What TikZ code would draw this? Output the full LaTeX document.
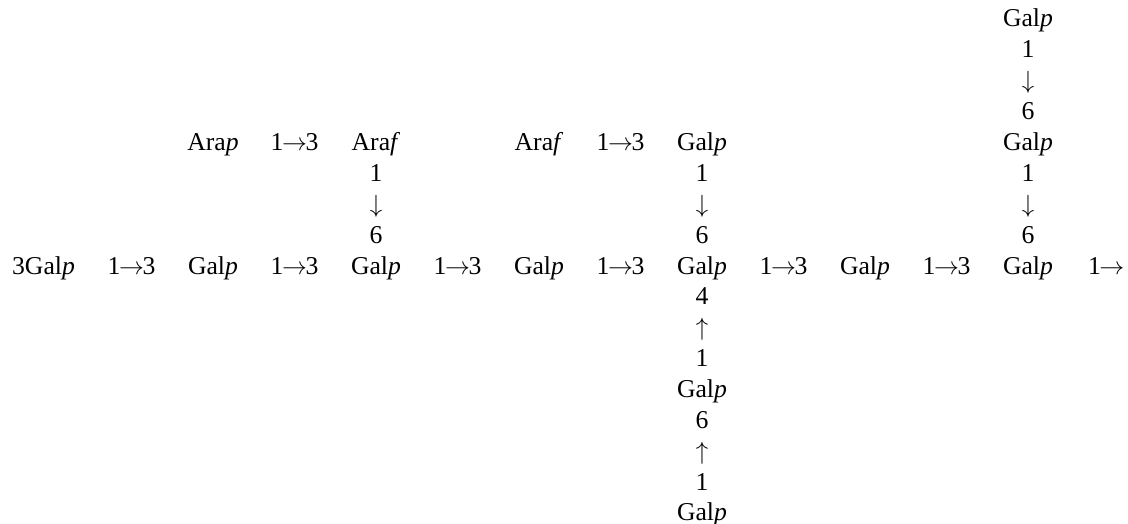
\documentclass[tikz,border=0pt]{standalone}
\usepackage{fontspec}
\setmainfont{Liberation Serif}
\newcommand{\myra}{\ensuremath{\mkern-1mu\rightarrow\mkern-1mu}}
\newcommand{\myda}{{\fontsize{25}{30}\selectfont$\downarrow$}}
\newcommand{\myua}{{\fontsize{25}{30}\selectfont$\uparrow$}}
\begin{document}
\begin{tikzpicture}[x=1pt,y=-1pt,
  lbl/.style={anchor=base,inner sep=0pt,outer sep=0pt,font=\fontsize{25.7}{30}\selectfont}]
\useasboundingbox (0,0) rectangle (1128,524);
% column centres: c_i = 50 + 81.5 i ; row baselines: 274 + 30.9 (k-8)
% main row (k=8)
\node[lbl] (m0) at (43.5,274) {3Gal\textit{p}};
\node[lbl] (m1) at (131.5,274) {1\myra3};
\node[lbl] (m2) at (213,274) {Gal\textit{p}};
\node[lbl] (m3) at (294.5,274) {1\myra3};
\node[lbl] (m4) at (376,274) {Gal\textit{p}};
\node[lbl] (m5) at (457.5,274) {1\myra3};
\node[lbl] (m6) at (539,274) {Gal\textit{p}};
\node[lbl] (m7) at (620.5,274) {1\myra3};
\node[lbl] (m8) at (702,274) {Gal\textit{p}};
\node[lbl] (m9) at (783.5,274) {1\myra3};
\node[lbl] (m10) at (865,274) {Gal\textit{p}};
\node[lbl] (m11) at (946.5,274) {1\myra3};
\node[lbl] (m12) at (1028,274) {Gal\textit{p}};
\node[lbl,anchor=base west] (m13) at (1088,274) {1\myra};
% upper row (k=4)
\node[lbl] (u2) at (213,150.4) {Ara\textit{p}};
\node[lbl] (u3) at (294.5,150.4) {1\myra3};
\node[lbl] (u4) at (376,150.4) {Ara\textit{f}};
\node[lbl] (u6) at (539,150.4) {Ara\textit{f}};
\node[lbl] (u7) at (620.5,150.4) {1\myra3};
\node[lbl] (u8) at (702,150.4) {Gal\textit{p}};
\node[lbl] (u12) at (1028,150.4) {Gal\textit{p}};
% column 4 link
\node[lbl] (a4a) at (376,181.3) {1};
\node[lbl] (a4b) at (376,212.2) {\myda};
\node[lbl] (a4c) at (376,243.1) {6};
% column 8 upper link
\node[lbl] (a8a) at (702,181.3) {1};
\node[lbl] (a8b) at (702,212.2) {\myda};
\node[lbl] (a8c) at (702,243.1) {6};
% column 8 lower branch
\node[lbl] (b8a) at (702,304.9) {4};
\node[lbl] (b8b) at (702,335.8) {\myua};
\node[lbl] (b8c) at (702,366.7) {1};
\node[lbl] (b8d) at (702,397.6) {Gal\textit{p}};
\node[lbl] (b8e) at (702,428.5) {6};
\node[lbl] (b8f) at (702,459.4) {\myua};
\node[lbl] (b8g) at (702,490.3) {1};
\node[lbl] (b8h) at (702,520.2) {Gal\textit{p}};
% column 12 upper branch
\node[lbl] (t12a) at (1028,26.8) {Gal\textit{p}};
\node[lbl] (t12b) at (1028,57.7) {1};
\node[lbl] (t12c) at (1028,88.6) {\myda};
\node[lbl] (t12d) at (1028,119.5) {6};
\node[lbl] (a12a) at (1028,181.3) {1};
\node[lbl] (a12b) at (1028,212.2) {\myda};
\node[lbl] (a12c) at (1028,243.1) {6};
\end{tikzpicture}
\end{document}
